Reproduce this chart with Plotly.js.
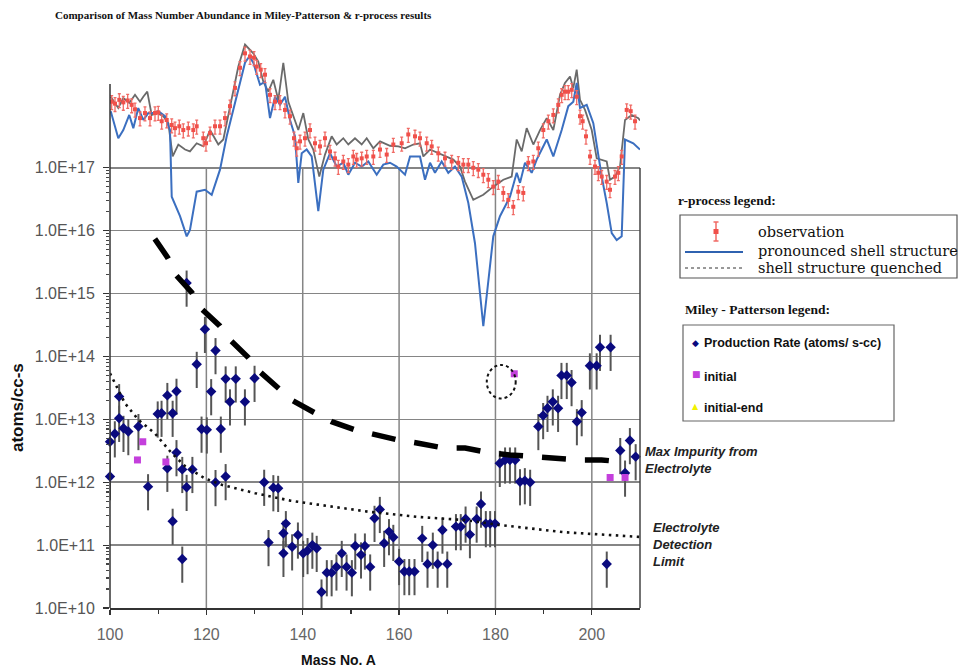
<!DOCTYPE html>
<html><head><meta charset="utf-8">
<script src="https://cdn.plot.ly/plotly-3.0.1.min.js"></script>
<style>html,body{margin:0;padding:0;background:#fff}#chart{width:961px;height:671px}</style>
</head><body><div id="chart"></div>
<script>
// ---------- Miley-Patterson data (atoms/cc-s) ----------
const prodMass = [100.0,100.0,101.0,101.9,101.9,102.8,103.8,105.9,107.9,109.9,
  110.7,111.9,111.9,113.0,113.0,113.8,113.8,115.0,115.0,115.9,
  115.9,117.1,118.0,119.0,119.7,120.1,121.0,121.9,121.9,123.0,
  124.0,124.0,124.9,126.1,128.0,130.0,132.0,132.9,133.9,134.9,
  136.0,136.0,136.5,137.8,139.0,140.1,141.0,142.0,142.9,143.9,
  145.0,146.0,147.0,148.1,149.1,150.2,150.9,152.1,152.9,154.0,
  154.9,156.0,156.9,157.9,158.8,160.0,161.1,162.1,163.2,164.8,
  165.9,167.0,168.0,169.0,170.0,171.8,172.8,173.8,174.7,176.1,
  177.0,178.0,178.9,179.9,180.9,182.0,183.0,184.1,185.1,186.1,
  187.2,188.9,189.9,190.8,191.9,193.0,193.7,194.8,195.8,196.9,
  197.9,199.6,201.0,201.7,203.1,203.9,205.9,206.9,207.9,209.1];
const prodRate = [4.4e12,1.23e12,5.9e12,2.3e13,1.04e13,7.2e12,6.4e12,7.7e12,8.5e11,1.22e13,
  1.25e13,2.4e13,1.67e12,1.25e13,2.4e11,2.8e13,2.96e12,1.6e12,6.0e10,8.3e11,
  1.47e15,1.6e12,7.5e13,7.0e12,2.7e14,6.8e12,2.76e13,1.24e14,9.9e11,7.0e12,
  1.23e12,4.4e13,1.9e13,4.4e13,1.9e13,4.5e13,1.0e12,1.1e11,8.2e11,8.0e11,
  1.54e11,7.4e10,2.2e11,9.4e10,1.45e11,7.4e10,8.2e10,1.0e11,8.9e10,1.8e10,
  3.65e10,3.65e10,4.5e10,7.4e10,4.5e10,3.65e10,9.7e10,7.0e10,9.7e10,4.5e10,
  2.67e11,3.7e11,1.07e11,1.64e11,1.33e11,5.5e10,3.8e10,3.8e10,3.8e10,1.28e11,
  5.0e10,1.0e11,5.0e10,1.74e11,5.0e10,1.97e11,1.97e11,2.6e11,1.47e11,2.6e11,
  4.5e11,2.2e11,2.2e11,2.2e11,2.0e12,2.26e12,2.26e12,2.26e12,1.02e12,1.06e12,
  1.0e12,7.7e12,1.15e13,1.5e13,1.9e13,1.5e13,5.0e13,5.0e13,3.85e13,9.2e12,
  1.28e13,7.1e13,7.1e13,1.4e14,5.0e10,1.4e14,3.2e12,1.4e12,4.6e12,2.55e12];
const initMass = [105.7,106.8,111.6,183.9,203.8,206.9];
const initRate = [2.26e12,4.4e12,2.1e12,5.3e13,1.19e12,1.19e12];
const impMass = [109.3,112,113.6,117,119,122.8,124.9,128.6,131.1,134.8,137.8,142.4,146,
  150.9,154.9,159.8,164,169.4,173.7,178.7,183,188.2,192.4,197.6,202,207.1];
const impRate = [7.4e15,3.7e15,2.0e15,1.03e15,5.7e14,3.06e14,1.84e14,9.8e13,5.7e13,3.3e13,2.0e13,1.28e13,9.2e12,
  6.8e12,5.65e12,4.7e12,4.17e12,3.48e12,3.5e12,2.95e12,2.72e12,2.52e12,2.46e12,2.26e12,2.26e12,2.08e12];
const detMass = [100,103.1,105.9,109.3,112.8,115.6,119.7,123.2,130.1,137.4,143.2,153.6,164,173.7,180.6,194.4,210];
const detRate = [5.4e13,1.8e13,9.8e12,6.0e12,2.9e12,1.8e12,1.15e12,9.1e11,6.7e11,5.1e11,4.4e11,3.4e11,2.8e11,2.5e11,2.1e11,1.6e11,1.35e11];

// ---------- r-process overlay (log10 of abundance on the same axis) ----------
const rpShellMass = [100.15,101.72,102.76,104.0,104.84,105.87,106.91,107.95,108.99,110.02,111.41,112.45,112.81,114.53,115.92,116.6,117.99,119.72,121.11,122.83,124.22,126.3,128.02,128.91,129.74,131.13,132.17,133.21,134.25,135.28,136.32,137.36,138.4,139.08,139.79,140.82,141.86,143.23,144.27,145.66,147.05,148.42,149.46,150.85,152.24,153.61,155.35,156.72,158.11,159.5,161.23,162.27,164.34,165.38,166.42,167.45,168.84,170.21,171.6,172.99,174.37,175.75,177.48,179.55,180.94,183.02,184.41,185.1,186.13,187.52,188.56,190.64,192.01,193.75,195.12,196.16,196.86,197.55,198.94,200.31,201.35,202.05,203.09,204.13,205.16,206.2,206.89,208.61,210];
const rpShellLog = [17.90,17.47,17.60,17.84,17.63,17.95,17.76,17.87,17.87,17.90,17.82,17.60,16.54,16.23,15.91,16.01,16.62,16.65,16.57,16.97,17.50,18.13,18.67,18.77,18.67,18.32,18.37,17.79,18.13,18.00,18.13,17.76,17.50,16.76,17.23,17.29,17.18,16.31,16.97,17.23,17.02,17.08,16.89,17.08,17.02,17.10,16.89,17.05,17.08,17.02,16.89,17.18,17.18,16.81,17.08,16.92,17.10,16.92,17.02,16.86,16.44,15.80,14.48,15.91,16.23,16.54,16.92,16.76,17.08,16.92,17.13,17.45,17.18,17.60,17.98,18.05,18.35,17.95,18.00,17.71,17.18,16.86,16.44,15.96,15.85,15.91,17.45,17.39,17.29];
const rpQuenchMass = [100.15,101.72,102.76,104.0,105.19,106.23,106.91,107.74,108.65,109.69,111.06,112.1,113.01,114.18,115.57,116.6,117.99,119.36,120.76,122.48,123.52,124.91,126.63,128.02,129.74,130.78,131.82,132.86,133.89,134.93,135.97,137.01,138.04,139.08,140.12,141.16,142.19,143.44,144.62,146.01,147.05,148.42,149.46,150.85,152.24,153.28,154.65,156.04,158.11,159.84,161.23,162.95,164.34,165.03,166.42,168.14,169.88,171.25,172.64,173.68,175.4,177.48,179.55,181.63,183.37,184.41,185.45,186.48,187.86,189.25,190.64,192.01,193.4,194.43,195.47,196.16,196.86,197.55,198.59,199.98,201.02,202.05,203.09,203.77,204.81,205.85,206.89,208.28,209.65,210];
const rpQuenchLog = [18.13,17.95,18.11,18.03,18.16,18.05,18.13,18.21,17.84,17.87,17.82,17.71,17.18,17.37,17.29,17.26,17.39,17.34,17.60,17.37,17.45,17.98,18.61,18.96,18.82,18.69,18.37,18.21,18.40,18.08,18.67,18.05,17.82,17.60,17.87,17.45,17.29,16.86,17.21,17.50,17.37,17.47,17.37,17.47,17.37,17.47,17.31,17.42,17.35,17.34,17.31,17.37,17.39,17.18,17.29,17.23,17.18,17.13,17.02,16.78,16.49,16.57,16.70,16.81,16.86,17.45,17.26,17.63,17.37,17.60,17.79,17.60,18.16,18.35,18.45,18.27,18.56,18.08,17.92,17.60,17.15,17.13,17.10,16.81,16.86,17.02,17.76,17.84,17.79,17.75];
const rpObsMass = [100.35,101.04,101.93,102.76,103.67,104.5,105.19,106.23,107.26,108.3,109.34,110.02,110.73,111.77,112.81,113.49,114.38,115.21,116.25,117.29,117.99,119.36,119.92,120.76,121.79,122.83,123.87,124.91,125.94,126.98,128.02,129.06,129.89,130.45,131.28,132.17,133.21,134.25,135.28,136.32,137.36,138.19,138.75,139.44,140.47,141.51,142.55,143.59,144.62,145.66,146.7,147.38,148.42,149.46,150.5,151.2,152.24,153.28,154.65,156.04,157.43,158.8,160.54,161.91,163.3,164.34,165.73,166.77,168.14,169.53,170.92,172.29,173.33,174.37,175.4,176.44,177.48,178.52,179.55,180.59,181.63,182.67,183.7,184.74,185.78,186.82,187.86,188.89,189.93,190.97,192.01,193.04,193.75,194.43,195.12,195.83,196.86,197.55,198.1,198.79,199.63,200.66,201.35,202.05,203.09,203.77,204.81,205.5,206.2,207.24,208.07,208.97];
const rpObsLog = [18.05,18.02,18.08,18.04,18.07,18.00,17.93,17.79,17.87,17.79,17.87,17.88,17.74,17.76,17.68,17.63,17.66,17.60,17.63,17.60,17.66,17.47,17.39,17.55,17.66,17.66,17.79,17.98,18.27,18.59,18.82,18.77,18.75,18.61,18.56,18.48,18.16,18.05,18.05,17.92,17.82,17.47,17.31,17.42,17.47,17.60,17.39,17.34,17.47,17.26,17.15,17.02,17.10,17.05,17.18,17.13,17.15,17.18,17.18,17.29,17.21,17.37,17.39,17.53,17.50,17.47,17.39,17.34,17.23,17.15,17.10,17.08,17.05,17.05,17.00,16.97,16.89,16.81,16.70,16.78,16.60,16.49,16.38,16.62,16.60,17.08,17.10,17.31,17.60,17.74,17.84,18.00,18.16,18.21,18.21,18.24,18.13,17.82,17.74,17.50,17.18,17.02,16.92,16.86,16.78,16.65,16.86,16.92,17.18,17.92,17.90,17.74];

// ---------- ticks ----------
const xTickVals = [100,120,140,160,180,200];
const xMinorVals = [110,130,150,170,190];
const yTickVals = [1e10,1e11,1e12,1e13,1e14,1e15,1e16,1e17];
const yTickText = ['1.0E+10','1.0E+11','1.0E+12','1.0E+13','1.0E+14','1.0E+15','1.0E+16','1.0E+17'];

const pow10 = a => a.map(v => Math.pow(10, v));
const yMinorVals = [];
yTickVals.slice(0, -1).forEach(d => { for (let k = 2; k <= 9; k++) yMinorVals.push(d * k); });

// plot-area geometry (pixels) for decorations outside the data
const L = 110, T = 42, W = 530, H = 566;
const PX = v => (v - L) / W, PY = v => (T + H - v) / H;

const SANS = 'Liberation Sans, Arial, sans-serif';
const SERIF = 'Liberation Serif, Times New Roman, serif';
const DSERIF = 'DejaVu Serif, serif';

const traces = [
  {x: rpQuenchMass, y: pow10(rpQuenchLog), mode: 'lines', line: {color: '#6a6a6a', width: 1.8}, hoverinfo: 'skip'},
  {x: rpShellMass, y: pow10(rpShellLog), mode: 'lines', line: {color: '#3b6fc0', width: 2}, hoverinfo: 'skip'},
  {x: rpObsMass, y: pow10(rpObsLog), mode: 'markers',
   marker: {symbol: 'square', size: 4, color: '#f0504a'},
   error_y: {type: 'percent', value: 25, color: '#f06a64', thickness: 1.3, width: 1.5}},
  {x: prodMass, y: prodRate, mode: 'markers', cliponaxis: false,
   marker: {symbol: 'diamond', size: 8, color: '#0a0a7e'},
   error_y: {type: 'percent', value: 58, color: '#555', thickness: 2, width: 0}},
  {x: initMass, y: initRate, mode: 'markers', cliponaxis: false,
   marker: {symbol: 'square', size: 7, color: '#c43fdc'}},
  {x: detMass, y: detRate, mode: 'lines', line: {color: '#111', width: 2.6, dash: '2.5px,4.5px'}},
  {x: impMass, y: impRate, mode: 'lines', line: {color: '#000', width: 5.5, dash: '24px,19px'}}
];

const shapes = [];
xTickVals.slice(1).forEach(v => shapes.push({type: 'line', xref: 'x', yref: 'paper', x0: v, x1: v, y0: 0, y1: PY(168),
  line: {color: '#858585', width: 1.5}, layer: 'below'}));
// left axis line (stops where the pasted r-process panel begins) and right border
shapes.push({type: 'line', xref: 'paper', yref: 'paper', x0: 0, x1: 0, y0: 0, y1: PY(84), line: {color: '#333', width: 1.5}});
shapes.push({type: 'line', xref: 'paper', yref: 'paper', x0: 1, x1: 1, y0: 0, y1: PY(168), line: {color: '#444', width: 1.5}});
// dotted circle around the lone "initial" point
shapes.push({type: 'circle', xref: 'x', yref: 'paper', x0: 178.2, x1: 184.2, y0: PY(398.5), y1: PY(365),
  line: {color: '#111', width: 2, dash: 'dot'}});
// r-process legend box and swatches
shapes.push({type: 'rect', xref: 'paper', yref: 'paper', x0: PX(680), x1: PX(957), y0: PY(278), y1: PY(215), line: {color: '#555', width: 1.2}});
shapes.push({type: 'line', xref: 'paper', yref: 'paper', x0: PX(716), x1: PX(716), y0: PY(241), y1: PY(222), line: {color: '#f06a64', width: 1.5}});
shapes.push({type: 'line', xref: 'paper', yref: 'paper', x0: PX(713.5), x1: PX(718.5), y0: PY(222), y1: PY(222), line: {color: '#f06a64', width: 1.5}});
shapes.push({type: 'line', xref: 'paper', yref: 'paper', x0: PX(713.5), x1: PX(718.5), y0: PY(241), y1: PY(241), line: {color: '#f06a64', width: 1.5}});
shapes.push({type: 'rect', xref: 'paper', yref: 'paper', x0: PX(713.5), x1: PX(718.5), y0: PY(234), y1: PY(229), fillcolor: '#f0504a', line: {width: 0}});
shapes.push({type: 'line', xref: 'paper', yref: 'paper', x0: PX(685), x1: PX(743), y0: PY(252), y1: PY(252), line: {color: '#2f62b0', width: 2}});
shapes.push({type: 'line', xref: 'paper', yref: 'paper', x0: PX(685), x1: PX(743), y0: PY(268), y1: PY(268), line: {color: '#333', width: 1, dash: 'dot'}});
// Miley-Patterson legend box
shapes.push({type: 'rect', xref: 'paper', yref: 'paper', x0: PX(683), x1: PX(894), y0: PY(421), y1: PY(325), line: {color: '#666', width: 1.2}});

function ann(xp, yp, text, font, extra) {
  return Object.assign({xref: 'paper', yref: 'paper', x: PX(xp), y: PY(yp), text: text, showarrow: false,
    xanchor: 'left', yanchor: 'middle', align: 'left', font: font}, extra || {});
}
const annotations = [
  ann(18, 408, '<b>atoms/cc-s</b>', {family: SANS, size: 17, color: '#111'}, {xanchor: 'center', textangle: -90}),
  ann(338, 660, '<b>Mass No. A</b>', {family: SANS, size: 14, color: '#111'}, {xanchor: 'center'}),
  ann(643, 460.5, '<b><i>Max Impurity from<br>Electrolyte</i></b>', {family: SANS, size: 13, color: '#222'}),
  ann(651, 544, '<b><i>Electrolyte<br>Detection<br>Limit</i></b>', {family: SANS, size: 13, color: '#222'}),
  ann(676, 200, '<b>r-process legend:</b>', {family: SERIF, size: 13.5, color: '#111'}),
  ann(756, 232, 'observation', {family: DSERIF, size: 14.5, color: '#111'}),
  ann(756, 251, 'pronounced shell structure', {family: DSERIF, size: 14.5, color: '#111'}),
  ann(756, 268, 'shell structure quenched', {family: DSERIF, size: 14.5, color: '#111'}),
  ann(683, 309, '<b>Miley - Patterson legend:</b>', {family: SERIF, size: 13.5, color: '#111'}),
  ann(690, 343, '◆', {family: 'DejaVu Sans', size: 9, color: '#0a0a7e'}),
  ann(702, 343, '<b>Production Rate (atoms/ s-cc)</b>', {family: SANS, size: 12.5, color: '#111'}),
  ann(689.5, 374, '■', {family: 'DejaVu Sans', size: 9, color: '#c43fdc'}),
  ann(702, 377, '<b>initial</b>', {family: SANS, size: 12.5, color: '#111'}),
  ann(690, 406.5, '▲', {family: 'DejaVu Sans', size: 8, color: '#f2f200'}),
  ann(702, 408, '<b>initial-end</b>', {family: SANS, size: 12.5, color: '#111'})
];

const layout = {
  width: 961, height: 671,
  margin: {l: L, r: 961 - L - W, t: T, b: 671 - T - H},
  paper_bgcolor: '#fff', plot_bgcolor: '#fff',
  showlegend: false,
  title: {text: '<b>Comparison of Mass Number Abundance in Miley-Patterson &amp; r-process results</b>',
    font: {family: SERIF, size: 11, color: '#111'}, xref: 'container', yref: 'container',
    x: 55 / 961, xanchor: 'left', y: 1 - 15 / 671, yanchor: 'middle'},
  xaxis: {range: [100, 210], tickmode: 'array', tickvals: xTickVals, ticktext: xTickVals.map(String),
    showgrid: false, zeroline: false, showline: true, linecolor: '#333', linewidth: 1.5,
    ticks: 'outside', ticklen: 5, tickcolor: '#333', tickwidth: 1.2, ticklabelstandoff: 6,
    tickfont: {family: SANS, size: 16, color: '#666'},
    minor: {tickmode: 'array', tickvals: xMinorVals, ticks: 'outside', ticklen: 4, tickcolor: '#333', showgrid: false}},
  yaxis: {type: 'log', range: [10, 19], tickmode: 'array', tickvals: yTickVals, ticktext: yTickText,
    showgrid: true, gridcolor: '#858585', gridwidth: 1.5, zeroline: false, showline: false,
    ticks: 'outside', ticklen: 6, tickcolor: '#333', tickwidth: 1.2, ticklabelstandoff: 5,
    tickfont: {family: SANS, size: 16, color: '#555'},
    minor: {tickmode: 'array', tickvals: yMinorVals, ticks: 'outside', ticklen: 3, tickcolor: '#444', showgrid: false}},
  shapes: shapes,
  annotations: annotations
};

Plotly.newPlot('chart', traces, layout, {displayModeBar: false, staticPlot: true});
</script>
</body></html>
